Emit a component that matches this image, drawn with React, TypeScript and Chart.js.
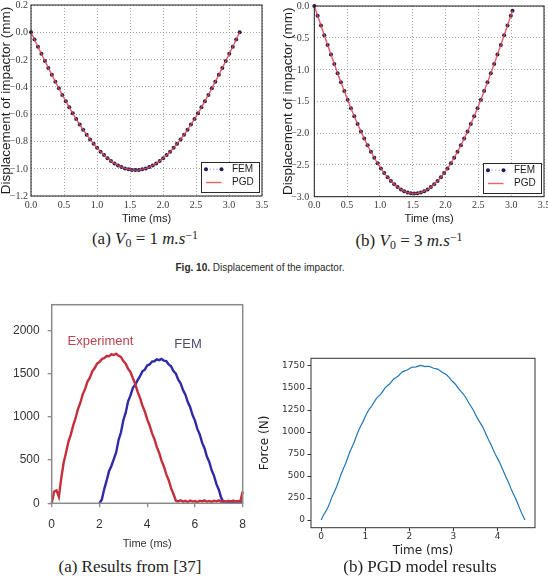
import React, { useEffect, useRef, useState } from 'react';
import { Chart, registerables } from 'chart.js';

Chart.register(...registerables);

// ---------- Fig. 10 (a): impactor displacement, V0 = 1 m/s ----------
const femTimeA = [
  0, 0.053, 0.105, 0.158, 0.211, 0.263, 0.316, 0.369, 0.422, 0.474, 0.527, 0.580, 0.632, 0.685, 0.738, 0.790,
  0.843, 0.896, 0.949, 1.001, 1.054, 1.107, 1.159, 1.212, 1.265, 1.318, 1.370, 1.423, 1.476, 1.528, 1.581,
  1.634, 1.686, 1.739, 1.792, 1.845, 1.897, 1.950, 2.003, 2.055, 2.108, 2.161, 2.213, 2.266, 2.319, 2.372,
  2.424, 2.477, 2.530, 2.582, 2.635, 2.688, 2.740, 2.793, 2.846, 2.899, 2.951, 3.004, 3.057, 3.109, 3.162,
];
const femDispA = [
  0, -0.053, -0.106, -0.158, -0.210, -0.261, -0.312, -0.362, -0.411, -0.459, -0.505, -0.550, -0.594, -0.636,
  -0.676, -0.714, -0.751, -0.785, -0.817, -0.847, -0.875, -0.900, -0.923, -0.943, -0.961, -0.976, -0.988,
  -0.998, -1.004, -1.009, -1.010, -1.009, -1.004, -0.998, -0.988, -0.976, -0.961, -0.943, -0.923, -0.900,
  -0.875, -0.847, -0.817, -0.785, -0.751, -0.714, -0.676, -0.636, -0.594, -0.550, -0.505, -0.459, -0.411,
  -0.362, -0.312, -0.261, -0.210, -0.158, -0.106, -0.053, 0,
];

// ---------- Fig. 10 (b): impactor displacement, V0 = 3 m/s ----------
const femTimeB = [
  0, 0.051, 0.102, 0.152, 0.203, 0.254, 0.305, 0.355, 0.406, 0.457, 0.508, 0.558, 0.609, 0.660, 0.711, 0.761,
  0.812, 0.863, 0.914, 0.964, 1.015, 1.066, 1.117, 1.167, 1.218, 1.269, 1.320, 1.370, 1.421, 1.472, 1.523,
  1.573, 1.624, 1.675, 1.726, 1.776, 1.827, 1.878, 1.929, 1.979, 2.030, 2.081, 2.132, 2.182, 2.233, 2.284,
  2.335, 2.385, 2.436, 2.487, 2.538, 2.588, 2.639, 2.690, 2.741, 2.791, 2.842, 2.893, 2.944, 2.994, 3.020,
];
const femDispB = [
  0, -0.154, -0.308, -0.461, -0.613, -0.764, -0.912, -1.057, -1.200, -1.339, -1.475, -1.607, -1.734, -1.856,
  -1.974, -2.086, -2.192, -2.293, -2.387, -2.474, -2.555, -2.628, -2.695, -2.754, -2.806, -2.849, -2.886,
  -2.914, -2.934, -2.946, -2.950, -2.946, -2.934, -2.914, -2.886, -2.849, -2.806, -2.754, -2.695, -2.628,
  -2.555, -2.474, -2.387, -2.293, -2.192, -2.086, -1.974, -1.856, -1.734, -1.607, -1.475, -1.339, -1.200,
  -1.057, -0.912, -0.764, -0.613, -0.461, -0.308, -0.154, -0.076,
];

const dispTickX = [0, 0.5, 1, 1.5, 2, 2.5, 3, 3.5];
const dispTickYA = [0.2, 0, -0.2, -0.4, -0.6, -0.8, -1.0, -1.2];
const dispTickYB = [0, -0.5, -1.0, -1.5, -2.0, -2.5, -3.0];

// ---------- Fig. 11 (a): contact force, experiment vs FEM from [37] ----------
const expTime = [
  0, 0.1, 0.2, 0.3, 0.4, 0.5, 0.6, 0.7, 0.8, 0.9, 1.0, 1.1, 1.2, 1.3, 1.4, 1.5, 1.6, 1.7, 1.8, 1.9,
  2.0, 2.1, 2.2, 2.3, 2.4, 2.5, 2.6, 2.7, 2.8, 2.9, 3.0, 3.1, 3.2, 3.3, 3.4, 3.5, 3.6, 3.7, 3.8, 3.9,
  4.0, 4.1, 4.2, 4.3, 4.4, 4.5, 4.6, 4.7, 4.8, 4.9, 5.0, 5.1, 5.2, 5.3, 5.4, 5.5, 5.6, 5.7, 5.8, 5.9,
  6.0, 6.1, 6.2, 6.3, 6.4, 6.5, 6.6, 6.7, 6.8, 6.9, 7.0, 7.1, 7.2, 7.3, 7.4, 7.5, 7.6, 7.7, 7.8, 7.9, 8.0,
];
const expForce = [
  0, 135, 150, 75, 290, 470, 585, 712, 795, 902,
  985, 1092, 1165, 1262, 1325, 1410, 1455, 1528, 1566, 1618,
  1636, 1672, 1681, 1706, 1704, 1726, 1718, 1732, 1708, 1695,
  1648, 1616, 1558, 1521, 1448, 1382, 1290, 1222, 1131, 1063,
  972, 904, 812, 745, 653, 586, 494, 426, 335, 267,
  176, 108, 30, 22, 35, 18, 28, 15, 32, 20,
  26, 14, 30, 22, 34, 18, 27, 16, 30, 21,
  33, 17, 25, 14, 29, 20, 31, 18, 26, 22,
  135,
];
const refFemTime = [
  2.0, 2.1, 2.2, 2.3, 2.4, 2.5, 2.6, 2.7, 2.8, 2.9, 3.0, 3.1, 3.2, 3.3, 3.4, 3.5, 3.6, 3.7, 3.8, 3.9,
  4.0, 4.1, 4.2, 4.3, 4.4, 4.5, 4.6, 4.7, 4.8, 4.9, 5.0, 5.1, 5.2, 5.3, 5.4, 5.5, 5.6, 5.7, 5.8, 5.9,
  6.0, 6.1, 6.2, 6.3, 6.4, 6.5, 6.6, 6.7, 6.8, 6.9, 7.0, 7.1, 7.2, 7.3, 7.4, 7.5, 7.6, 7.7, 7.8, 7.9, 8.0,
];
const refFemForce = [
  0, 45, 165, 262, 372, 432, 512, 590, 732, 820,
  962, 1050, 1182, 1250, 1338, 1372, 1428, 1472, 1528, 1548,
  1596, 1608, 1642, 1645, 1668, 1658, 1672, 1652, 1646, 1608,
  1586, 1532, 1502, 1432, 1388, 1312, 1258, 1172, 1112, 1022,
  958, 862, 798, 702, 638, 542, 478, 382, 318, 222,
  158, 62, 15, 22, 12, 20, 14, 21, 13, 19,
  15,
];
const refTickX = [0, 2, 4, 6, 8];
const refTickY = [0, 500, 1000, 1500, 2000];
const refNoteText = ['Experiment', 'FEM'];
const refNoteX = [2.04, 5.71];
const refNoteY = [1873, 1842];

// ---------- Fig. 11 (b): contact force from the PGD model ----------
const pgdTime = [
  0, 0.05, 0.1, 0.15, 0.2, 0.25, 0.3, 0.35, 0.4, 0.45, 0.5, 0.55, 0.6, 0.65, 0.7, 0.75, 0.8, 0.85, 0.9, 0.95,
  1.0, 1.05, 1.1, 1.15, 1.2, 1.25, 1.3, 1.35, 1.4, 1.45, 1.5, 1.55, 1.6, 1.65, 1.7, 1.75, 1.8, 1.85, 1.9, 1.95,
  2.0, 2.05, 2.1, 2.15, 2.2, 2.25, 2.3, 2.35, 2.4, 2.45, 2.5, 2.55, 2.6, 2.65, 2.7, 2.75, 2.8, 2.85, 2.9, 2.95,
  3.0, 3.05, 3.1, 3.15, 3.2, 3.25, 3.3, 3.35, 3.4, 3.45, 3.5, 3.55, 3.6, 3.65, 3.7, 3.75, 3.8, 3.85, 3.9, 3.95,
  4.0, 4.05, 4.1, 4.15, 4.2, 4.25, 4.3, 4.35, 4.4, 4.45, 4.5, 4.55, 4.6, 4.62,
];
const pgdForce = [
  0, 55, 95, 140, 200, 268, 320, 378, 445, 520,
  580, 636, 705, 775, 830, 886, 955, 1020, 1070, 1118,
  1175, 1228, 1265, 1298, 1340, 1380, 1405, 1430, 1465, 1502,
  1525, 1545, 1575, 1605, 1620, 1636, 1663, 1686, 1695, 1704,
  1720, 1736, 1738, 1740, 1748, 1756, 1752, 1744, 1745, 1746,
  1735, 1724, 1720, 1712, 1695, 1676, 1665, 1648, 1620, 1590,
  1565, 1540, 1505, 1472, 1445, 1415, 1375, 1330, 1290, 1250,
  1200, 1152, 1110, 1070, 1020, 963, 910, 860, 800, 748,
  700, 652, 595, 536, 480, 426, 365, 308, 255, 199,
  135, 78, 25, 0,
];
const pgdTickX = [0, 1, 2, 3, 4];
const pgdTickY = [0, 250, 500, 750, 1000, 1250, 1500, 1750];

// ---------- helpers ----------
const SERIF = "'Liberation Serif', 'Times New Roman', serif";
const SANS = "'Liberation Sans', Arial, sans-serif";
const DEJAVU = "'DejaVu Sans', sans-serif";

const pts = (xs: number[], ys: number[]) => xs.map((x, i) => ({ x, y: ys[i] }));
const fmt1 = (v: number) => (Math.abs(v) < 1e-9 ? '0.0' : v.toFixed(1).replace('-', '\u2212'));
const plain = (v: number) => String(v);

const fixWidth = (w: number) => (s: any) => {
  s.width = w;
  s.paddingTop = 0;
  s.paddingBottom = 0;
};
const fixHeight = (h: number) => (s: any) => {
  s.height = h;
  s.paddingLeft = 0;
  s.paddingRight = 0;
};
const tickAt = (vals: number[]) => (s: any) => {
  s.ticks = vals.map((value) => ({ value }));
};

// Box around the plotting area (all four sides).
const framePlugin = {
  id: 'frame',
  afterDraw(chart: any, _args: any, o: any) {
    const { ctx, chartArea: a } = chart;
    ctx.save();
    ctx.strokeStyle = o.color;
    ctx.lineWidth = o.width;
    ctx.setLineDash([]);
    ctx.strokeRect(a.left, a.top, a.right - a.left, a.bottom - a.top);
    ctx.restore();
  },
};

// Rotated y-axis title, centred on the plotting area.
const sideTitlePlugin = {
  id: 'sideTitle',
  afterDraw(chart: any, _args: any, o: any) {
    const { ctx, chartArea: a } = chart;
    ctx.save();
    ctx.translate(o.x, (a.top + a.bottom) / 2);
    ctx.rotate(-Math.PI / 2);
    ctx.font = o.font;
    ctx.fillStyle = o.color;
    ctx.textAlign = 'center';
    ctx.textBaseline = 'middle';
    ctx.fillText(o.text, 0, 0);
    ctx.restore();
  },
};

// Framed legend in the lower right corner of the axes.
const boxLegendPlugin = {
  id: 'boxLegend',
  afterDraw(chart: any, _args: any, o: any) {
    const { ctx, chartArea: a } = chart;
    const x0 = Math.round(a.right - o.right - o.width) + 0.5;
    const y0 = Math.round(a.bottom - o.bottom - o.height) + 0.5;
    ctx.save();
    ctx.fillStyle = '#ffffff';
    ctx.fillRect(x0, y0, o.width, o.height);
    ctx.strokeStyle = '#2a2a2a';
    ctx.lineWidth = 1;
    ctx.setLineDash([]);
    ctx.strokeRect(x0, y0, o.width, o.height);
    chart.data.datasets.forEach((ds: any, i: number) => {
      const cy = y0 + 6.7 + i * 13.3;
      const lx0 = x0 + 4.5;
      const lx1 = x0 + 20;
      ctx.strokeStyle = ds.borderColor;
      ctx.lineWidth = ds.borderWidth;
      ctx.setLineDash(ds.borderDash || []);
      ctx.beginPath();
      ctx.moveTo(lx0, cy);
      ctx.lineTo(lx1, cy);
      ctx.stroke();
      ctx.setLineDash([]);
      if (ds.pointRadius > 0) {
        ctx.fillStyle = ds.pointBackgroundColor;
        [lx0, lx1].forEach((px) => {
          ctx.beginPath();
          ctx.arc(px, cy, ds.pointRadius, 0, Math.PI * 2);
          ctx.fill();
        });
      }
      ctx.fillStyle = '#1a1a1a';
      ctx.font = `10px ${SANS}`;
      ctx.textAlign = 'left';
      ctx.textBaseline = 'middle';
      ctx.fillText(ds.label, x0 + 30.5, cy);
    });
    ctx.restore();
  },
};

// Curve names written inside the axes.
const notesPlugin = {
  id: 'notes',
  afterDatasetsDraw(chart: any, _args: any, o: any) {
    const { ctx, scales } = chart;
    ctx.save();
    ctx.font = o.font;
    ctx.textAlign = 'center';
    ctx.textBaseline = 'middle';
    o.text.forEach((t: string, i: number) => {
      ctx.fillStyle = o.colors[i];
      ctx.fillText(t, scales.x.getPixelForValue(o.x[i]), scales.y.getPixelForValue(o.y[i]));
    });
    ctx.restore();
  },
};

const baseOptions = {
  responsive: false,
  animation: false,
  devicePixelRatio: 1,
  events: [],
};

type Geo = { padTop: number; padRight: number; yWidth: number; xHeight: number; yTitleX: number };

function displacementConfig(time: number[], disp: number[], yTicks: number[], g: Geo): any {
  const gridLine = { color: '#8e8e8e', lineWidth: 0.8, drawTicks: false };
  const tickFont = { family: SERIF, size: 10 };
  return {
    type: 'line',
    data: {
      datasets: [
        {
          label: 'FEM',
          data: pts(time, disp),
          borderColor: 'rgba(80,80,220,0.55)',
          borderWidth: 1,
          borderDash: [1.5, 2],
          pointRadius: 2,
          pointBackgroundColor: '#1d1d58',
          pointBorderColor: '#1d1d58',
          pointBorderWidth: 0,
          order: 2,
          clip: 4,
        },
        {
          label: 'PGD',
          data: pts(time, disp),
          borderColor: 'rgba(232,74,74,0.85)',
          borderWidth: 1.4,
          pointRadius: 0,
          order: 1,
          clip: 4,
        },
      ],
    },
    options: {
      ...baseOptions,
      layout: { padding: { top: g.padTop, right: g.padRight, left: 0, bottom: 0 } },
      plugins: {
        legend: { display: false },
        tooltip: { enabled: false },
        frame: { color: '#1a1a1a', width: 1 },
        sideTitle: { text: 'Displacement of impactor (mm)', x: g.yTitleX, font: `13.5px ${SANS}`, color: '#1a1a1a' },
        boxLegend: { width: 58, height: 30, right: 3, bottom: 4 },
      },
      scales: {
        x: {
          type: 'linear',
          bounds: 'data',
          min: dispTickX[0],
          max: dispTickX[dispTickX.length - 1],
          afterFit: fixHeight(g.xHeight),
          afterBuildTicks: tickAt(dispTickX),
          grid: gridLine,
          border: { display: false, dash: [1, 2] },
          ticks: { color: '#3a3a3a', autoSkip: false, maxRotation: 0, minRotation: 0, padding: 3, font: tickFont, callback: (v: number) => fmt1(v) },
          title: { display: true, text: 'Time (ms)', color: '#1a1a1a', font: { family: SANS, size: 11, lineHeight: 1 }, padding: { top: 0, bottom: 1 } },
        },
        y: {
          type: 'linear',
          bounds: 'data',
          min: yTicks[yTicks.length - 1],
          max: yTicks[0],
          afterFit: fixWidth(g.yWidth),
          afterBuildTicks: tickAt(yTicks),
          grid: gridLine,
          border: { display: false, dash: [1, 2] },
          ticks: { display: false },
        },
      },
    },
    plugins: [framePlugin, sideTitlePlugin, boxLegendPlugin],
  };
}

function referenceForceConfig(): any {
  const tickMarks = { drawOnChartArea: false, drawTicks: true, tickLength: 4, color: '#8a8a8a', tickColor: '#8a8a8a', lineWidth: 1.3, tickWidth: 1.3 };
  const tickFont = { family: SANS, size: 12 };
  return {
    type: 'line',
    data: {
      datasets: [
        { label: 'Experiment', data: pts(expTime, expForce), borderColor: '#c42f3b', borderWidth: 2.4, pointRadius: 0, clip: 3 },
        { label: 'FEM', data: pts(refFemTime, refFemForce), borderColor: '#2f2aa8', borderWidth: 2.4, pointRadius: 0, clip: 3 },
      ],
    },
    options: {
      ...baseOptions,
      layout: { padding: { top: 9.7, right: 12.3, left: 0, bottom: 0 } },
      plugins: {
        legend: { display: false },
        tooltip: { enabled: false },
        frame: { color: '#8a8a8a', width: 1.5 },
        notes: { text: refNoteText, x: refNoteX, y: refNoteY, colors: ['#b9434f', '#4d4d72'], font: `13px ${SANS}` },
      },
      scales: {
        x: {
          type: 'linear',
          bounds: 'data',
          min: 0,
          max: 8,
          afterFit: fixHeight(51.7),
          afterBuildTicks: tickAt(refTickX),
          grid: tickMarks,
          border: { display: false },
          ticks: { autoSkip: false, maxRotation: 0, minRotation: 0, padding: 10, color: '#333', font: tickFont, callback: (v: number) => plain(v) },
          title: { display: true, text: 'Time (ms)', color: '#333', font: { family: SANS, size: 11, lineHeight: 1 }, padding: { top: 0, bottom: 5.5 } },
        },
        y: {
          type: 'linear',
          bounds: 'data',
          min: 0,
          max: 2300,
          afterFit: fixWidth(51.7),
          afterBuildTicks: tickAt(refTickY),
          grid: tickMarks,
          border: { display: false },
          ticks: { autoSkip: false, padding: 8, color: '#333', font: tickFont, callback: (v: number) => plain(v) },
        },
      },
    },
    plugins: [notesPlugin, framePlugin],
  };
}

function pgdForceConfig(): any {
  const tickMarks = { drawOnChartArea: false, drawTicks: true, tickLength: 3.5, color: '#333', tickColor: '#333', lineWidth: 1, tickWidth: 1 };
  const tickFont = { family: DEJAVU, size: 9 };
  return {
    type: 'line',
    data: {
      datasets: [{ label: 'PGD', data: pts(pgdTime, pgdForce), borderColor: '#1f77b4', borderWidth: 1.2, pointRadius: 0 }],
    },
    options: {
      ...baseOptions,
      layout: { padding: { top: 18.3, right: 13, left: 0, bottom: 0 } },
      plugins: {
        legend: { display: false },
        tooltip: { enabled: false },
        frame: { color: '#333', width: 1 },
        sideTitle: { text: 'Force (N)', x: 10, font: `12px ${DEJAVU}`, color: '#222' },
      },
      scales: {
        x: {
          type: 'linear',
          bounds: 'data',
          min: -0.231,
          max: 4.851,
          afterFit: fixHeight(32.3),
          afterBuildTicks: tickAt(pgdTickX),
          grid: tickMarks,
          border: { display: false },
          ticks: { autoSkip: false, maxRotation: 0, minRotation: 0, padding: 0, color: '#333', font: tickFont, callback: (v: number) => plain(v) },
          title: { display: true, text: 'Time (ms)', color: '#222', font: { family: DEJAVU, size: 12, lineHeight: 1 }, padding: { top: 0, bottom: 3.5 } },
        },
        y: {
          type: 'linear',
          bounds: 'data',
          min: -87.5,
          max: 1837.5,
          afterFit: fixWidth(56),
          afterBuildTicks: tickAt(pgdTickY),
          grid: tickMarks,
          border: { display: false },
          ticks: { autoSkip: false, padding: 2.5, color: '#333', font: tickFont, callback: (v: number) => plain(v) },
        },
      },
    },
    plugins: [framePlugin, sideTitlePlugin],
  };
}

type TickLabel = { text: string; x: number; y: number };

function Panel({ left, top, width, height, make, yLabelPad }: {
  left: number; top: number; width: number; height: number; make: () => any; yLabelPad?: number;
}) {
  const ref = useRef<HTMLCanvasElement>(null);
  const [labels, setLabels] = useState<TickLabel[]>([]);
  useEffect(() => {
    const chart = new Chart(ref.current as HTMLCanvasElement, make());
    if (yLabelPad !== undefined) {
      // signed y tick labels placed from the chart's own y scale
      const ys: any = chart.scales.y;
      const a = chart.chartArea;
      setLabels(ys.ticks.map((t: any) => ({ text: fmt1(t.value), x: a.left - yLabelPad, y: ys.getPixelForValue(t.value) })));
    }
    return () => chart.destroy();
  }, []);
  return (
    <>
      <canvas ref={ref} width={width} height={height} style={{ position: 'absolute', left, top, width, height }} />
      {labels.map((l, i) => (
        <span
          key={i}
          style={{
            position: 'absolute',
            left: left + l.x,
            top: top + l.y,
            transform: 'translate(-100%, -50%)',
            fontFamily: SERIF,
            fontSize: 10,
            lineHeight: '10px',
            color: '#3a3a3a',
            whiteSpace: 'nowrap',
          }}
        >
          {l.text}
        </span>
      ))}
    </>
  );
}

const captionStyle = (cx: number, top: number, size: number): React.CSSProperties => ({
  position: 'absolute',
  left: cx,
  top,
  transform: 'translateX(-50%)',
  whiteSpace: 'nowrap',
  fontFamily: SERIF,
  fontSize: size,
  lineHeight: `${size}px`,
  color: '#1e1e1e',
});
const sub: React.CSSProperties = { fontSize: '0.7em', position: 'relative', top: '0.28em' };
const sup: React.CSSProperties = { fontSize: '0.7em', position: 'relative', top: '-0.45em' };

export default function App() {
  return (
    <div style={{ position: 'absolute', left: 0, top: 0, width: 548, height: 584, background: '#ffffff', overflow: 'hidden' }}>
      <Panel left={0} top={0} width={270} height={225} yLabelPad={3}
        make={() => displacementConfig(femTimeA, femDispA, dispTickYA, { padTop: 5, padRight: 8, yWidth: 31, xHeight: 29, yTitleX: 6.7 })} />
      <Panel left={270} top={0} width={278} height={225} yLabelPad={5}
        make={() => displacementConfig(femTimeB, femDispB, dispTickYB, { padTop: 6, padRight: 1.3, yWidth: 44.3, xHeight: 28.3, yTitleX: 18.3 })} />

      <div style={captionStyle(145, 230, 17)}>
        (a) <i>V</i><span style={sub}>0</span> = 1 <i>m.s</i><span style={sup}>−1</span>
      </div>
      <div style={captionStyle(409, 232, 17)}>
        (b) <i>V</i><span style={sub}>0</span> = 3 <i>m.s</i><span style={sup}>−1</span>
      </div>
      <div style={{ position: 'absolute', left: 260, top: 262, transform: 'translateX(-50%)', whiteSpace: 'nowrap', fontFamily: SANS, fontSize: 10, lineHeight: '12px', color: '#2a2a2a' }}>
        <b>Fig. 10.</b> Displacement of the impactor.
      </div>

      <Panel left={0} top={295} width={255} height={260} make={referenceForceConfig} />
      <Panel left={255} top={340} width={293} height={220} make={pgdForceConfig} />

      <div style={captionStyle(130, 558, 17)}>(a) Results from [37]</div>
      <div style={captionStyle(420, 558, 17)}>(b) PGD model results</div>
    </div>
  );
}
